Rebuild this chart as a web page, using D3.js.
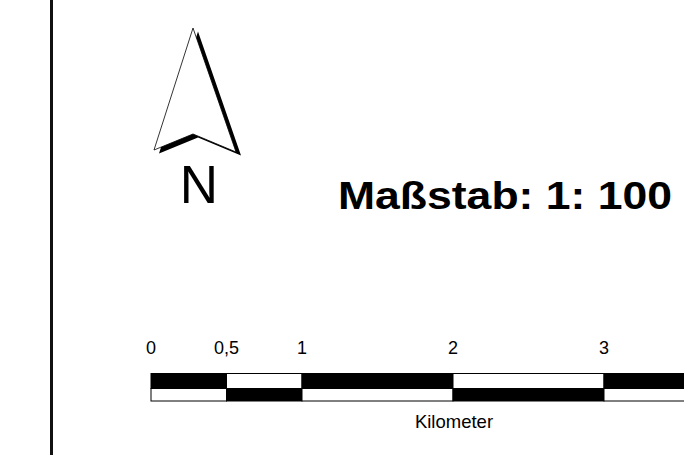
<!DOCTYPE html>
<html>
<head>
<meta charset="utf-8">
<script src="https://cdn.jsdelivr.net/npm/d3@7/dist/d3.min.js"></script>
<style>
  html, body { margin: 0; padding: 0; background: #fff; }
  svg { display: block; font-family: "Liberation Sans", Arial, sans-serif; }
</style>
</head>
<body>
<svg id="chart" width="684" height="455"></svg>
<script>
// --- data ---
const scaleBreaks = [0, 0.5, 1, 2, 3, 4];          // km boundaries of bar segments
const tickValues = [0, 0.5, 1, 2, 3];               // labelled positions (km)
const tickLabels = ["0", "0,5", "1", "2", "3"];
const unitLabel = "Kilometer";
const titleText = "Maßstab: 1: 100";
const northLabel = "N";

const svg = d3.select("#chart");
const W = 684, H = 455;

// frame line on the left
svg.append("line")
  .attr("x1", 51.5).attr("x2", 51.5).attr("y1", 0).attr("y2", H)
  .attr("stroke", "#111").attr("stroke-width", 3);

// --- north arrow ---
const arrow = [[193, 28], [236, 152], [193, 134], [154, 150]];
const shadowOff = [5, 3.5];
svg.append("polygon")
  .attr("points", arrow.map(p => [p[0] + shadowOff[0], p[1] + shadowOff[1]].join(",")).join(" "))
  .attr("fill", "#000");
svg.append("polygon")
  .attr("points", arrow.map(p => p.join(",")).join(" "))
  .attr("fill", "#fff").attr("stroke", "#000").attr("stroke-width", 0.8)
  .attr("stroke-linejoin", "miter");
svg.append("text")
  .attr("x", 199).attr("y", 203)
  .attr("text-anchor", "middle")
  .attr("font-size", 53)
  .attr("fill", "#000")
  .text(northLabel);

// --- title ---
svg.append("text")
  .attr("x", 338).attr("y", 209)
  .attr("font-size", 38).attr("font-weight", "bold")
  .attr("fill", "#000")
  .attr("textLength", 334).attr("lengthAdjust", "spacingAndGlyphs")
  .text(titleText);

// --- scale bar ---
const x = d3.scaleLinear().domain([0, 4]).range([151, 755]);
const segs = d3.pairs(scaleBreaks).map((p, i) => ({ a: p[0], b: p[1], i }));
const rowTop = { y: 373.5, h: 15 };
const rowBot = { y: 388.5, h: 12.5 };

svg.append("g").selectAll("rect.top").data(segs).join("rect")
  .attr("x", d => x(d.a)).attr("width", d => x(d.b) - x(d.a))
  .attr("y", rowTop.y).attr("height", rowTop.h)
  .attr("fill", d => d.i % 2 === 0 ? "#000" : "#fff")
  .attr("stroke", "#000").attr("stroke-width", 1);

svg.append("g").selectAll("rect.bot").data(segs).join("rect")
  .attr("x", d => x(d.a)).attr("width", d => x(d.b) - x(d.a))
  .attr("y", rowBot.y).attr("height", rowBot.h)
  .attr("fill", d => d.i % 2 === 0 ? "#fff" : "#000")
  .attr("stroke", "#000").attr("stroke-width", 1);

// tick labels
svg.append("g").selectAll("text").data(tickValues).join("text")
  .attr("x", d => x(d)).attr("y", 354)
  .attr("text-anchor", "middle")
  .attr("font-size", 18)
  .attr("fill", "#000")
  .text((d, i) => tickLabels[i]);

// unit label
svg.append("text")
  .attr("x", 454).attr("y", 428)
  .attr("text-anchor", "middle")
  .attr("font-size", 18.5)
  .attr("fill", "#000")
  .text(unitLabel);
</script>
</body>
</html>
